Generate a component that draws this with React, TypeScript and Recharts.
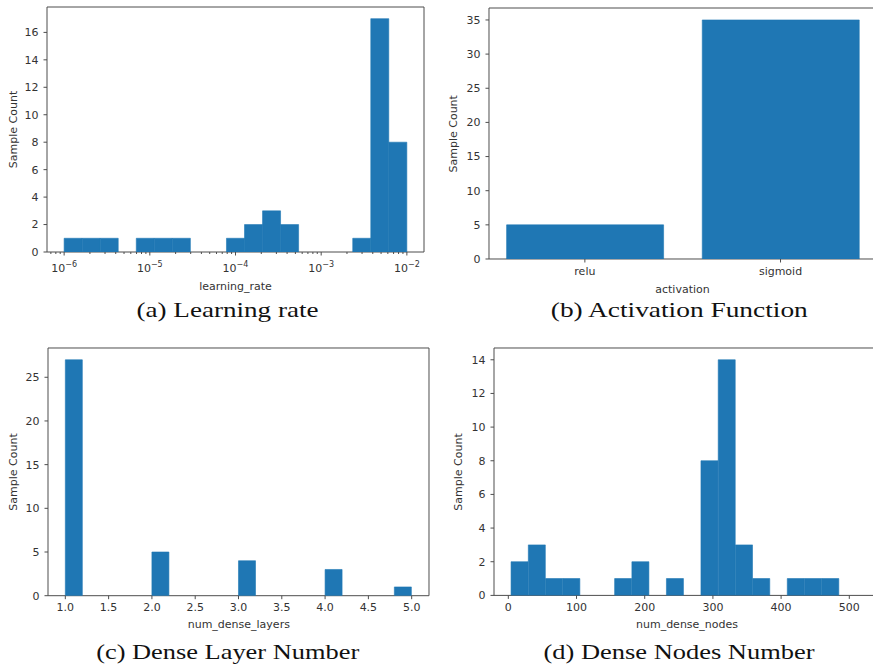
import { Bar, BarChart, ReferenceArea, XAxis, YAxis } from "recharts";

const BAR_COLOR = "#1f77b4";
const SPINE = "#4d4d4d";
const TEXT = "#333";
const SANS = "'DejaVu Sans', sans-serif";
const SERIF = "'Liberation Serif', 'Times New Roman', serif";

// (a) learning rate: 19 bins, log-spaced between 1e-6 and 1e-2
const lrLogRange: [number, number] = [-6, -2];
const lrCounts = [1, 1, 1, 0, 1, 1, 1, 0, 0, 1, 2, 3, 2, 0, 0, 0, 1, 17, 8];
const lrMajorTicks = [-6, -5, -4, -3, -2];
const lrYTicks = [0, 2, 4, 6, 8, 10, 12, 14, 16];

// (b) activation function
const activationNames = ["relu", "sigmoid"];
const activationCounts = [5, 35];
const activationYTicks = [0, 5, 10, 15, 20, 25, 30, 35];

// (c) dense layer number: 20 bins between 1 and 5
const layerRange: [number, number] = [1, 5];
const layerCounts = [27, 0, 0, 0, 0, 5, 0, 0, 0, 0, 4, 0, 0, 0, 0, 3, 0, 0, 0, 1];
const layerXTicks = [1, 1.5, 2, 2.5, 3, 3.5, 4, 4.5, 5];
const layerYTicks = [0, 5, 10, 15, 20, 25];

// (d) dense nodes number: 19 bins between 4 and 485
const nodeRange: [number, number] = [4, 485];
const nodeCounts = [2, 3, 1, 1, 0, 0, 1, 2, 0, 1, 0, 8, 14, 3, 1, 0, 1, 1, 1];
const nodeXTicks = [0, 100, 200, 300, 400, 500];
const nodeYTicks = [0, 2, 4, 6, 8, 10, 12, 14];

type Point = { x: number; count: number };

function binData(range: [number, number], counts: number[]): Point[] {
  const width = (range[1] - range[0]) / counts.length;
  return counts.map((count, i) => ({ x: range[0] + (i + 0.5) * width, count }));
}

const lrData = binData(lrLogRange, lrCounts);
const layerData = binData(layerRange, layerCounts);
const nodeData = binData(nodeRange, nodeCounts);
const activationData: Point[] = activationCounts.map((count, i) => ({ x: i, count }));

// minor ticks at 2..9 x 10^n for the log axis
const lrMinorTicks: number[] = [];
for (let n = -7; n <= -2; n++) {
  for (let k = 2; k <= 9; k++) {
    const v = n + Math.log10(k);
    if (v > -6.2 && v < -1.8) lrMinorTicks.push(v);
  }
}
const lrAllTicks = [...lrMajorTicks, ...lrMinorTicks].sort((a, b) => a - b);

function LogTick(props: any) {
  const { x, y, payload } = props;
  const v: number = payload.value;
  const major = Math.abs(v - Math.round(v)) < 1e-9;
  return (
    <g>
      <line x1={x} x2={x} y1={y} y2={y + (major ? 3.5 : 2)} stroke={SPINE} />
      {major && (
        <text x={x} y={y + 20} textAnchor="middle" fontSize={11} fontFamily={SANS} fill={TEXT}>
          10
          <tspan dy={-5} fontSize={8}>
            {"\u2212" + Math.abs(Math.round(v))}
          </tspan>
        </text>
      )}
    </g>
  );
}

interface PanelProps {
  left: number;
  top: number;
  plotW: number;
  plotH: number;
  data: Point[];
  xDomain: [number, number];
  yDomain: [number, number];
  xTicks: number[];
  yTicks: number[];
  xTickFormatter?: (v: number) => string;
  logAxis?: boolean;
  gap?: string | number;
}

function Panel(p: PanelProps) {
  const padL = 50;
  const padT = 6;
  const padR = 6;
  const axisH = 30;
  const tickStyle = { fill: TEXT, fontSize: 11, fontFamily: SANS };

  return (
    <div style={{ position: "absolute", left: p.left - padL, top: p.top - padT }}>
      <BarChart
        width={p.plotW + padL + padR}
        height={p.plotH + padT + axisH}
        data={p.data}
        margin={{ top: padT, right: padR, left: 0, bottom: 0 }}
        barCategoryGap={p.gap ?? 0}
        barGap={0}
      >
        {p.logAxis ? (
          <XAxis
            dataKey="x"
            type="number"
            domain={p.xDomain}
            ticks={p.xTicks}
            interval={0}
            allowDataOverflow
            height={axisH}
            axisLine={false}
            tickLine={false}
            tickSize={0}
            tickMargin={0}
            tick={<LogTick />}
          />
        ) : (
          <XAxis
            dataKey="x"
            type="number"
            domain={p.xDomain}
            ticks={p.xTicks}
            interval={0}
            allowDataOverflow
            height={axisH}
            axisLine={false}
            tickLine={{ stroke: SPINE }}
            tickSize={3.5}
            tickMargin={4.5}
            tick={tickStyle}
            tickFormatter={p.xTickFormatter}
          />
        )}
        <YAxis
          type="number"
          domain={p.yDomain}
          ticks={p.yTicks}
          interval={0}
          allowDataOverflow
          width={padL}
          axisLine={false}
          tickLine={{ stroke: SPINE }}
          tickSize={3.5}
          tickMargin={5}
          tick={tickStyle}
        />
        <Bar
          dataKey="count"
          fill={BAR_COLOR}
          stroke={BAR_COLOR}
          strokeWidth={0.6}
          isAnimationActive={false}
        />
        <ReferenceArea
          x1={p.xDomain[0]}
          x2={p.xDomain[1]}
          y1={p.yDomain[0]}
          y2={p.yDomain[1]}
          fill="none"
          stroke={SPINE}
          strokeWidth={1}
          ifOverflow="visible"
        />
      </BarChart>
    </div>
  );
}

function YLabel({ x, y }: { x: number; y: number }) {
  return (
    <text
      x={x}
      y={y}
      transform={`rotate(-90, ${x}, ${y})`}
      textAnchor="middle"
      dominantBaseline="central"
      fontSize={11}
      fontFamily={SANS}
      fill={TEXT}
    >
      Sample Count
    </text>
  );
}

function XLabel({ x, y, text }: { x: number; y: number; text: string }) {
  return (
    <text x={x} y={y} textAnchor="middle" fontSize={11} fontFamily={SANS} fill={TEXT}>
      {text}
    </text>
  );
}

function Caption({ x, y, w, text }: { x: number; y: number; w: number; text: string }) {
  return (
    <text
      x={x}
      y={y}
      textAnchor="middle"
      fontSize={21}
      fontFamily={SERIF}
      fill="#111"
      textLength={w}
      lengthAdjust="spacingAndGlyphs"
    >
      {text}
    </text>
  );
}

export default function App() {
  return (
    <div
      style={{
        position: "absolute",
        left: 0,
        top: 0,
        width: 873,
        height: 667,
        overflow: "hidden",
        background: "#fff",
      }}
    >
      <Panel
        left={47}
        top={7}
        plotW={377}
        plotH={245}
        data={lrData}
        xDomain={[-6.2, -1.8]}
        yDomain={[0, 17.85]}
        xTicks={lrAllTicks}
        yTicks={lrYTicks}
        logAxis
      />
      <Panel
        left={489}
        top={8.3}
        plotW={387.4}
        plotH={251}
        data={activationData}
        xDomain={[-0.49, 1.49]}
        yDomain={[0, 36.75]}
        xTicks={[0, 1]}
        yTicks={activationYTicks}
        xTickFormatter={(v) => activationNames[v] ?? ""}
        gap="10%"
      />
      <Panel
        left={48.3}
        top={348}
        plotW={381}
        plotH={247.7}
        data={layerData}
        xDomain={[0.8, 5.2]}
        yDomain={[0, 28.35]}
        xTicks={layerXTicks}
        yTicks={layerYTicks}
        xTickFormatter={(v) => v.toFixed(1)}
      />
      <Panel
        left={494.3}
        top={348.3}
        plotW={386}
        plotH={247.4}
        data={nodeData}
        xDomain={[-21, 545]}
        yDomain={[0, 14.7]}
        xTicks={nodeXTicks}
        yTicks={nodeYTicks}
      />
      <svg
        width={873}
        height={667}
        style={{ position: "absolute", left: 0, top: 0, pointerEvents: "none" }}
      >
        <YLabel x={13} y={129.5} />
        <YLabel x={454} y={133.8} />
        <YLabel x={13.3} y={472} />
        <YLabel x={458.7} y={472} />
        <XLabel x={235.5} y={290} text="learning_rate" />
        <XLabel x={682.5} y={292.5} text="activation" />
        <XLabel x={238.8} y={628.4} text="num_dense_layers" />
        <XLabel x={687} y={628.4} text="num_dense_nodes" />
        <Caption x={227.5} y={317.3} w={182} text="(a) Learning rate" />
        <Caption x={679.3} y={317} w={257} text="(b) Activation Function" />
        <Caption x={227.7} y={659} w={263} text="(c) Dense Layer Number" />
        <Caption x={679} y={659} w={271} text="(d) Dense Nodes Number" />
      </svg>
    </div>
  );
}
